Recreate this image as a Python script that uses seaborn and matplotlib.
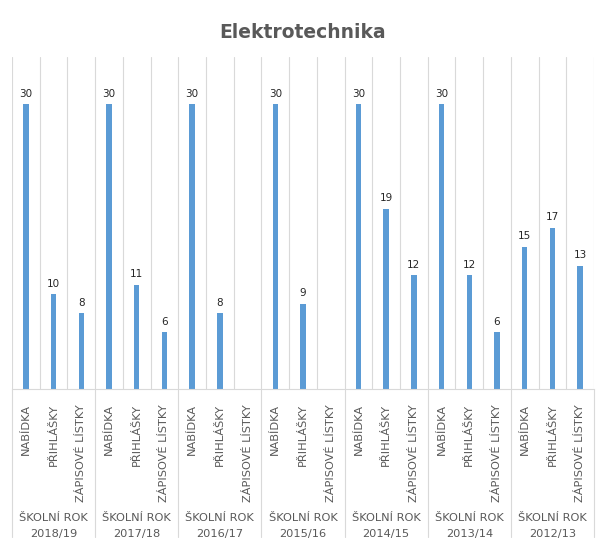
import numpy as np
import pandas as pd
import matplotlib
matplotlib.use("Agg")
import matplotlib.pyplot as plt
import matplotlib.transforms as mtransforms
import seaborn as sns

# ---- data ----
groups = ["2018/19", "2017/18", "2016/17", "2015/16", "2014/15", "2013/14", "2012/13"]
categories = ["NABÍDKA", "PŘIHLÁŠKY", "ZÁPISOVÉ LÍSTKY"]
nabidka = [30, 30, 30, 30, 30, 30, 15]
prihlasky = [10, 11, 8, 9, 19, 12, 17]
zapisove = [8, 6, np.nan, np.nan, 12, 6, 13]
group_prefix = "ŠKOLNÍ ROK"
title = "Elektrotechnika"

rows = []
for gi, g in enumerate(groups):
    for ci, (c, vals) in enumerate(zip(categories, [nabidka, prihlasky, zapisove])):
        rows.append({"key": f"{g}|{c}", "group": g, "category": c, "value": vals[gi]})
df = pd.DataFrame(rows)
order = list(df["key"])

sns.set_theme(style="white")
plt.rcParams["font.family"] = ["DejaVu Sans"]

fig = plt.figure(figsize=(6.05, 5.53), dpi=100)
ax = fig.add_axes([12 / 605, 1 - 389 / 553, (594 - 12) / 605, (389 - 57) / 553])

sns.barplot(data=df.fillna(0), x="key", y="value", order=order, color="#5B9BD5",
            width=0.2, ax=ax, saturation=1, linewidth=0)

ax.set_ylim(0, 35)
ax.set_xlim(-0.5, len(order) - 0.5)
ax.set_yticks([])
ax.set_ylabel("")
ax.set_xlabel("")
for s in ["top", "left", "right"]:
    ax.spines[s].set_visible(False)
ax.spines["bottom"].set_color("#D9D9D9")
ax.spines["bottom"].set_linewidth(0.8)

# vertical gridlines between categories
ax.set_xticks(np.arange(-0.5, len(order)), minor=True)
ax.grid(which="minor", axis="x", color="#D9D9D9", linewidth=0.8)
ax.tick_params(axis="x", which="both", length=0, pad=11)

ax.set_xticks(range(len(order)))
ax.set_xticklabels(list(df["category"]), rotation=90, fontsize=8.2, color="#595959",
                   va="top", ha="center")

# value labels
for i, v in enumerate(df["value"]):
    if not np.isnan(v):
        ax.annotate(f"{int(v)}", (i, v), xytext=(0, 4), textcoords="offset points",
                    ha="center", va="bottom", fontsize=7.5, color="#262626")

# group separators and labels
trans = mtransforms.blended_transform_factory(ax.transData, ax.transAxes)
n = len(categories)
for gi in range(len(groups) + 1):
    xb = gi * n - 0.5
    ax.plot([xb, xb], [0, -0.445], transform=trans, clip_on=False,
            color="#D9D9D9", linewidth=0.8)
for gi, g in enumerate(groups):
    xc = gi * n + (n - 1) / 2
    ax.text(xc, -0.389, group_prefix, transform=trans, ha="center", va="center",
            fontsize=8.2, color="#595959")
    ax.text(xc, -0.437, g, transform=trans, ha="center", va="center",
            fontsize=8.2, color="#595959")

fig.text(0.5, 1 - 32 / 553, title, ha="center", va="center", fontsize=13.5,
         fontweight="bold", color="#595959")

fig.savefig("out.png", dpi=100, facecolor="white")
